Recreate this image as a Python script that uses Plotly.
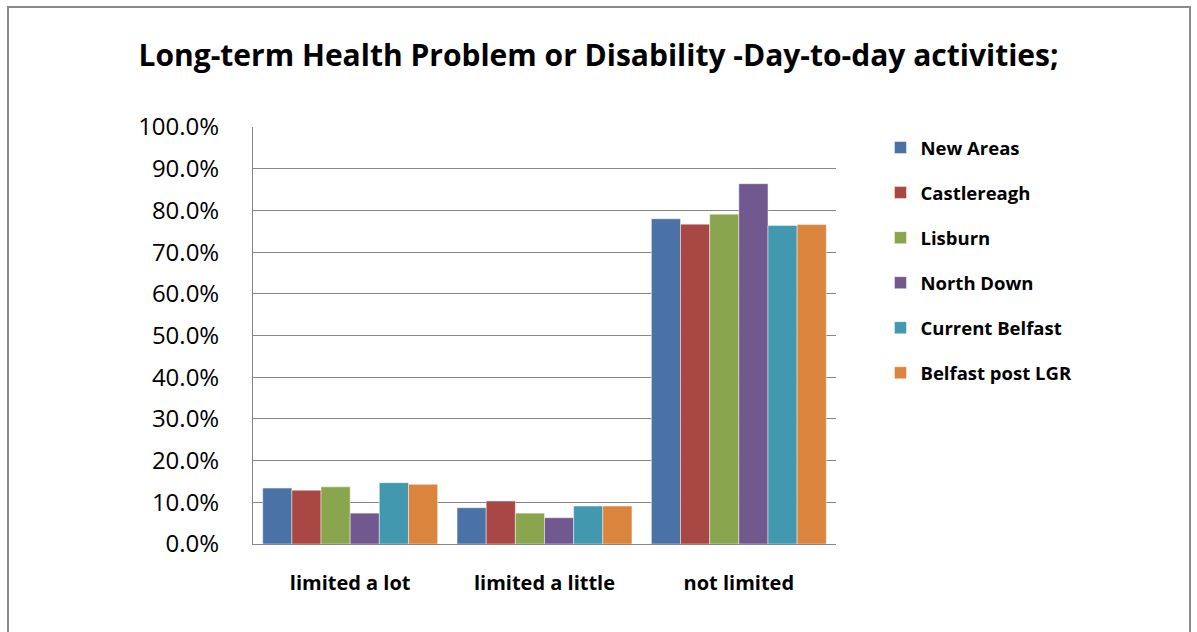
import plotly.graph_objects as go

categories = ["limited a lot", "limited a little", "not limited"]
series_names = ["New Areas", "Castlereagh", "Lisburn", "North Down", "Current Belfast", "Belfast post LGR"]
new_areas = [0.134, 0.087, 0.780]
castlereagh = [0.129, 0.103, 0.767]
lisburn = [0.137, 0.074, 0.791]
north_down = [0.074, 0.063, 0.864]
current_belfast = [0.147, 0.091, 0.764]
belfast_post_lgr = [0.143, 0.091, 0.766]
colors = ["#4A72A6", "#A84744", "#89A54E", "#71588F", "#4198AF", "#DB843D"]
tick_vals = [i / 10 for i in range(11)]
tick_text = [f"{i*10}.0%" for i in range(11)]

series_values = [new_areas, castlereagh, lisburn, north_down, current_belfast, belfast_post_lgr]
FONT = "Open Sans"

fig = go.Figure()
for name, vals, col in zip(series_names, series_values, colors):
    fig.add_trace(go.Bar(
        name=name, x=categories, y=vals, marker_color=col,
        marker_line=dict(color="rgba(255,255,255,0.45)", width=1),
        legendgroup=name,
    ))

fig.update_layout(
    width=1197, height=632,
    margin=dict(l=253, r=361, t=127, b=88),
    paper_bgcolor="white", plot_bgcolor="white",
    barmode="group", bargap=0.1, bargroupgap=0,
    font=dict(family=FONT, color="#000000"),
    title=dict(
        text="<b>Long-term Health Problem or Disability -Day-to-day activities;</b>",
        x=0.5, xref="container", xanchor="center",
        y=1 - 55 / 632, yref="container", yanchor="middle",
        font=dict(family=FONT, size=30, color="#000000"),
    ),
    legend=dict(
        x=1.09 - 8 / 583, xanchor="left", y=(544 - 129) / 417, yanchor="top",
        font=dict(family=FONT, size=18.5, color="#000000", weight="bold"),
        tracegroupgap=18, itemwidth=30, bgcolor="rgba(0,0,0,0)",
    ),
    showlegend=True,
)
fig.update_yaxes(
    range=[0, 1], tickvals=tick_vals, ticktext=tick_text,
    showgrid=True, gridcolor="#868686", gridwidth=1,
    showline=True, linecolor="#868686", linewidth=1,
    ticks="", ticklabelstandoff=28,
    tickfont=dict(family=FONT, size=24, color="#000000"),
    zeroline=False,
)
fig.update_xaxes(
    showline=True, linecolor="#868686", linewidth=1,
    ticks="",
    tickfont=dict(family=FONT, size=20, color="#000000", weight="bold"),
    ticklabelstandoff=21,
)
# outer chart border
fig.add_shape(type="rect", xref="paper", yref="paper",
              x0=(8 - 253) / 583, x1=(1190 - 253) / 583,
              y0=-0.4, y1=(544 - 7) / 417,
              line=dict(color="#8a8a8a", width=2), layer="below")

fig.write_html("out.html")
